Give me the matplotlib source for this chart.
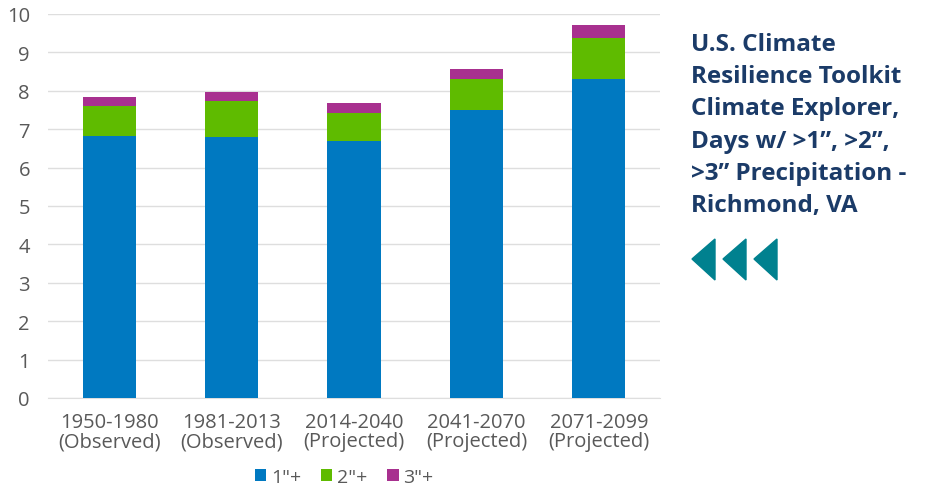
import matplotlib.pyplot as plt
from matplotlib.patches import Polygon

periods = ["1950-1980\n(Observed)", "1981-2013\n(Observed)", "2014-2040\n(Projected)",
           "2041-2070\n(Projected)", "2071-2099\n(Projected)"]
days_1in = [6.83, 6.80, 6.68, 7.50, 8.31]
days_2in = [0.77, 0.93, 0.75, 0.81, 1.06]
days_3in = [0.24, 0.23, 0.25, 0.26, 0.34]
series_names = ['1"+', '2"+', '3"+']
y_ticks = list(range(0, 11))

BLUE = "#0079c1"
GREEN = "#5fbb00"
PURPLE = "#a8308f"
NAVY = "#1b3b68"
TEAL = "#00818f"
GREY = "#595959"

plt.rcParams["font.family"] = ["Open Sans", "DejaVu Sans"]

fig = plt.figure(figsize=(9.36, 4.89), dpi=100)
ax = fig.add_axes([48 / 936, 1 - 399 / 489, 612 / 936, 384 / 489])

x = range(len(periods))
w = 0.435
ax.bar(x, days_1in, w, color=BLUE, label=series_names[0], zorder=3)
bottom2 = days_1in
ax.bar(x, days_2in, w, bottom=bottom2, color=GREEN, label=series_names[1], zorder=3)
bottom3 = [a + b for a, b in zip(days_1in, days_2in)]
ax.bar(x, days_3in, w, bottom=bottom3, color=PURPLE, label=series_names[2], zorder=3)

ax.set_xlim(-0.5, len(periods) - 0.5)
ax.set_ylim(0, 10)
ax.set_yticks(y_ticks)
ax.set_xticks(list(x))
ax.set_xticklabels(periods, fontsize=14.5, color=GREY, linespacing=0.95)
ax.tick_params(axis="y", labelsize=14.5, labelcolor=GREY, length=0, pad=13)
ax.tick_params(axis="x", length=0, pad=10)
ax.grid(axis="y", color="#dedede", lw=1, zorder=0)
for s in ["top", "right", "left"]:
    ax.spines[s].set_visible(False)
ax.spines["bottom"].set_color("#dedede")

ax.legend(loc="center", bbox_to_anchor=(344 / 936, 1 - 478 / 489),
          bbox_transform=fig.transFigure, ncol=3, frameon=False,
          fontsize=14, labelcolor=GREY, handlelength=0.6, handleheight=0.6,
          handletextpad=0.25, columnspacing=1.0)

title_lines = ["U.S. Climate", "Resilience Toolkit", "Climate Explorer,",
               "Days w/ >1\u201d, >2\u201d,", ">3\u201d Precipitation -", "Richmond, VA"]
for i, line in enumerate(title_lines):
    fig.text(691 / 936, 1 - (45 + i * 32.2) / 489, line, fontsize=17.5, fontweight="bold",
             color=NAVY, va="center", ha="left")

# three left-pointing triangles
for k in range(3):
    x0 = 692 + k * 31
    tri = Polygon([(x0 / 936, 1 - 260 / 489), ((x0 + 23) / 936, 1 - 240 / 489),
                   ((x0 + 23) / 936, 1 - 281 / 489)], closed=True,
                  transform=fig.transFigure, color=TEAL)
    fig.patches.append(tri)

fig.savefig("out.png", dpi=100)
